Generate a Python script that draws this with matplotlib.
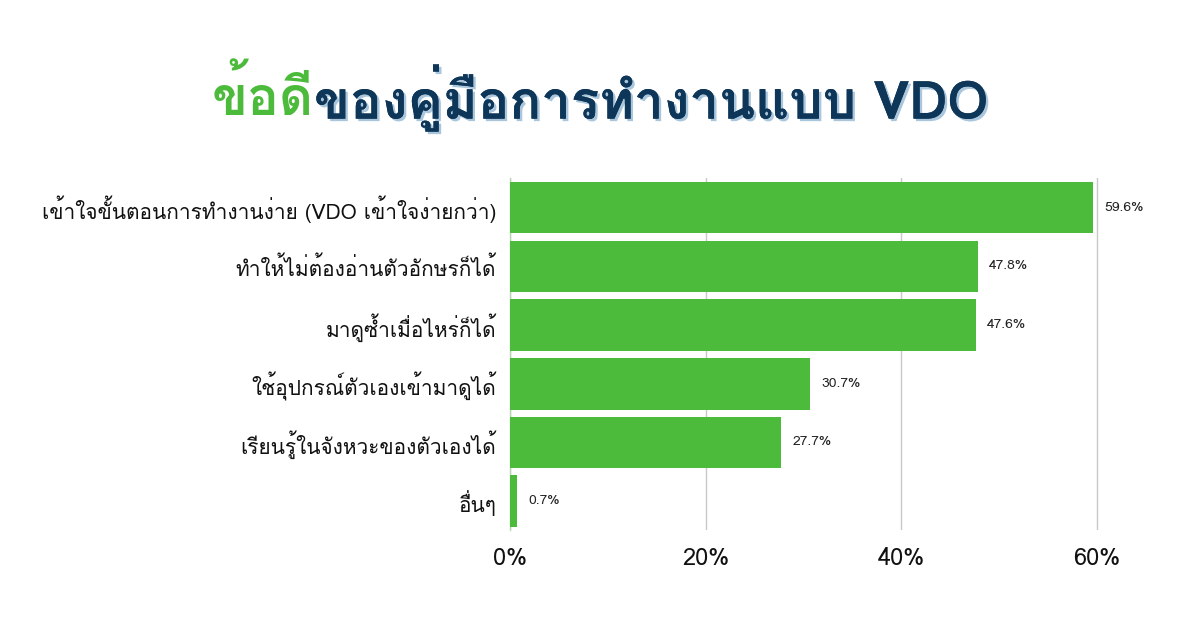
import matplotlib
matplotlib.use("Agg")
import matplotlib.pyplot as plt
from matplotlib import font_manager as fm
from matplotlib.ft2font import FT2Font
import matplotlib.patheffects as pe

# find an installed family that has Thai glyphs
thai_fams = []
for f in fm.fontManager.ttflist:
    try:
        if 0x0E01 in FT2Font(f.fname).get_charmap() and f.name not in thai_fams:
            thai_fams.append(f.name)
    except Exception:
        pass
fam = [thai_fams[0], 'DejaVu Sans'] if thai_fams else ['DejaVu Sans']
plt.rcParams['font.family'] = fam

categories = ['เข้าใจขั้นตอนการทำงานง่าย (VDO เข้าใจง่ายกว่า)',
              'ทำให้ไม่ต้องอ่านตัวอักษรก็ได้',
              'มาดูซ้ำเมื่อไหร่ก็ได้',
              'ใช้อุปกรณ์ตัวเองเข้ามาดูได้',
              'เรียนรู้ในจังหวะของตัวเองได้',
              'อื่นๆ']
values = [59.6, 47.8, 47.6, 30.7, 27.7, 0.7]
xticks = [0, 20, 40, 60]
title_green = 'ข้อดี'
title_rest = 'ของคู่มือการทำงานแบบ VDO'

green = '#4cbb3b'
navy = '#0e3658'
shadow = '#a9c6dc'

fig = plt.figure(figsize=(12, 6.3), dpi=100)
ax = fig.add_axes([0.425, 0.158, 0.491, 0.559])

y = list(range(len(values)))
ax.barh(y, values, height=0.88, color=green, zorder=3)
ax.set_ylim(len(values) - 0.5, -0.5)
ax.set_xlim(0, 60.2)
ax.set_xticks(xticks)
ax.set_xticklabels([f'{t}%' for t in xticks], fontsize=17, color='#111111')
ax.set_yticks(y)
ax.set_yticklabels(categories, fontsize=15, color='#111111')
ax.tick_params(length=0, pad=10)
ax.tick_params(axis='x', pad=12)
ax.grid(axis='x', color='#c8c8c8', linewidth=1, zorder=0)
for s in ['top', 'right', 'bottom']:
    ax.spines[s].set_visible(False)
ax.spines['left'].set_color('#b5d8b0')
ax.spines['left'].set_linewidth(1)

for yi, v in zip(y, values):
    ax.annotate(f'{v}%', (v, yi), xytext=(8, 0), textcoords='offset points',
                va='center', ha='left', fontsize=10, color='#222222')

# two-coloured title, the navy part with a light blue offset shadow
fig.canvas.draw()
r = fig.canvas.get_renderer()
tkw = dict(fontsize=38, fontweight='bold', va='center', ha='left')
t1 = fig.text(0, 0.845, title_green, color=green, **tkw)
t2 = fig.text(0, 0.845, title_rest, color=navy, **tkw)
w1 = t1.get_window_extent(r).width
w2 = t2.get_window_extent(r).width
x0 = (1200 - (w1 + w2)) / 2
t1.set_x(x0 / 1200)
t2.set_x((x0 + w1) / 1200)
t2.set_path_effects([pe.withSimplePatchShadow(offset=(1.8, -1.8), shadow_rgbFace=shadow, alpha=1),
                     pe.Normal()])

fig.savefig('out.png', dpi=100, facecolor='white')
